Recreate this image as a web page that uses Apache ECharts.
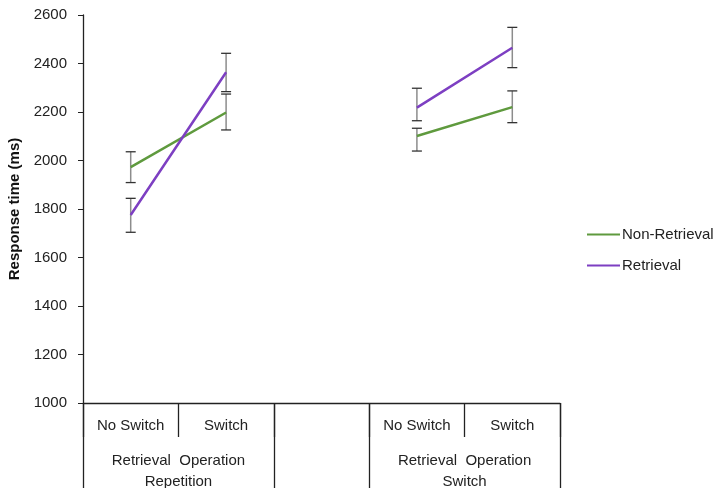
<!DOCTYPE html>
<html>
<head>
<meta charset="utf-8">
<script src="https://cdn.jsdelivr.net/npm/echarts@6/dist/echarts.min.js"></script>
<style>
  html, body { margin: 0; padding: 0; background: #fff; }
  #chart { width: 718px; height: 488px; }
</style>
</head>
<body>
<div id="chart"></div>
<script>
// categories (empty slot separates the two groups)
var categories = ['No Switch', 'Switch', '', 'No Switch', 'Switch'];
var groupNames = ['Retrieval  Operation\nRepetition', 'Retrieval  Operation\nSwitch'];
var groupCenters = [1, 4];
var groupBounds = [0, 2, 3, 5];

// means (ms)
var nonRetrieval = [1973, 2198, null, 2101, 2220];
var retrieval = [1775, 2364, null, 2218, 2465];

// error bar ranges [low, high]
var nonRetrievalErr = [[1909, 2036], [2126, 2274], null, [2039, 2133], [2156, 2287]];
var retrievalErr = [[1704, 1844], [2284, 2442], null, [2164, 2298], [2383, 2549]];

var yTicks = { min: 1000, max: 2600, interval: 200 };

var chart = echarts.init(document.getElementById('chart'));
var font = 'Liberation Sans';

function errSeries(ranges) {
    return {
        type: 'custom',
        xAxisIndex: 0,
        z: 1,
        silent: true,
        data: ranges.map(function (r, i) { return r ? [i, r[0], r[1]] : [i, null, null]; }),
        renderItem: function (params, api) {
            if (api.value(1) == null || isNaN(api.value(1))) return;
            var lo = api.coord([api.value(0), api.value(1)]);
            var hi = api.coord([api.value(0), api.value(2)]);
            var w = 5;
            return {
                type: 'group',
                children: [
                    { type: 'line', shape: { x1: lo[0], y1: lo[1], x2: hi[0], y2: hi[1] },
                      style: { stroke: '#8c8c8c', lineWidth: 1.5 } },
                    { type: 'line', shape: { x1: lo[0] - w, y1: lo[1], x2: lo[0] + w, y2: lo[1] },
                      style: { stroke: '#333', lineWidth: 1.3 } },
                    { type: 'line', shape: { x1: hi[0] - w, y1: hi[1], x2: hi[0] + w, y2: hi[1] },
                      style: { stroke: '#333', lineWidth: 1.3 } }
                ]
            };
        }
    };
}

var option = {
    animation: false,
    grid: { left: 83, right: 158, top: 15, bottom: 85, outerBoundsMode: 'none', containLabel: false },
    legend: {
        orient: 'vertical',
        left: 582,
        top: 222,
        itemWidth: 33,
        itemHeight: 2,
        itemGap: 16,
        icon: 'rect',
        textStyle: { fontFamily: font, fontSize: 15, color: '#222', padding: [0, 0, 0, -3] },
        data: ['Non-Retrieval', 'Retrieval']
    },
    xAxis: [{
        type: 'category',
        data: categories,
        boundaryGap: true,
        axisLine: { lineStyle: { color: '#222', width: 1.3 } },
        axisTick: { show: true, interval: 0, length: 34, lineStyle: { color: '#222', width: 1.3 } },
        axisLabel: { interval: 0, margin: 15, fontFamily: font, fontSize: 15, color: '#222' }
    }, {
        type: 'value',
        min: 0,
        max: 5,
        position: 'bottom',
        splitLine: { show: false },
        axisLine: { show: false },
        axisTick: { show: true, customValues: groupBounds, length: 85, lineStyle: { color: '#222', width: 1.3 } },
        axisLabel: {
            customValues: groupCenters,
            margin: 47,
            fontFamily: font,
            fontSize: 15,
            color: '#222',
            lineHeight: 21,
            formatter: function (v) { return groupNames[groupCenters.indexOf(v)] || ''; }
        }
    }],
    yAxis: {
        type: 'value',
        min: yTicks.min,
        max: yTicks.max,
        interval: yTicks.interval,
        name: 'Response time (ms)',
        nameLocation: 'middle',
        nameGap: 60,
        nameTextStyle: { fontFamily: font, fontSize: 15, fontWeight: 'bold', color: '#111' },
        splitLine: { show: false },
        axisLine: { show: true, lineStyle: { color: '#222', width: 1.3 } },
        axisTick: { show: true, length: 5, lineStyle: { color: '#222' } },
        axisLabel: { margin: 16, fontFamily: font, fontSize: 15, color: '#222',
                     formatter: function (v) { return String(v); } }
    },
    series: [
        errSeries(nonRetrievalErr),
        errSeries(retrievalErr),
        {
            name: 'Non-Retrieval',
            type: 'line',
            data: nonRetrieval,
            connectNulls: false,
            showSymbol: false,
            symbol: 'none',
            z: 3,
            itemStyle: { color: '#5f9a3e' },
            lineStyle: { color: '#5f9a3e', width: 2.5 }
        },
        {
            name: 'Retrieval',
            type: 'line',
            data: retrieval,
            connectNulls: false,
            showSymbol: false,
            symbol: 'none',
            z: 3,
            itemStyle: { color: '#7d3fc2' },
            lineStyle: { color: '#7d3fc2', width: 2.5 }
        }
    ]
};

chart.setOption(option);
</script>
</body>
</html>
